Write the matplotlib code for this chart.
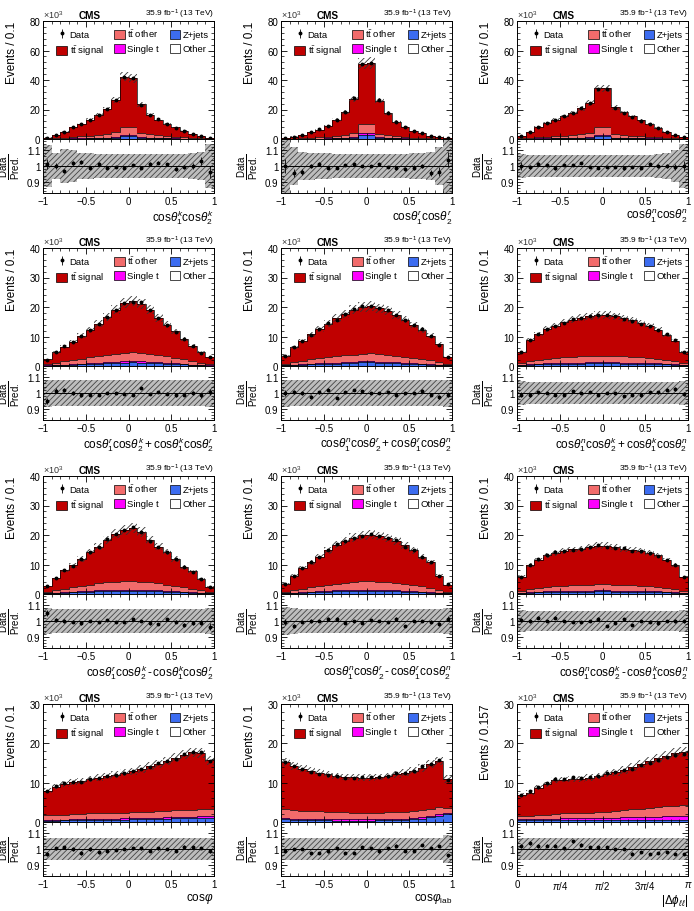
import numpy as np
import matplotlib.pyplot as plt
from matplotlib.ticker import MultipleLocator, FuncFormatter
from matplotlib.patches import Patch

plt.rcParams['font.family'] = ['Liberation Sans', 'DejaVu Sans']
plt.rcParams['mathtext.fontset'] = 'custom'
plt.rcParams['mathtext.rm'] = 'Liberation Sans'
plt.rcParams['mathtext.it'] = 'Liberation Sans:italic'
plt.rcParams['mathtext.bf'] = 'Liberation Sans:bold'
plt.rcParams['hatch.linewidth'] = 0.6

edges_cos = np.linspace(-1, 1, 21)
edges_phi = np.linspace(0, np.pi, 21)

# all yields in units of 10^3 events
# cos(theta1 k) cos(theta2 k)
kk_pred = [1.0, 2.6, 5.0, 8.0, 10.2, 13.0, 16.3, 20.4, 26.5, 42.3, 41.2, 23.5, 16.2, 13.0, 10.2, 7.8, 5.6, 3.4, 1.8, 0.7]
kk_ttother = [0.22, 0.44, 0.65, 0.95, 1.23, 1.54, 1.98, 2.52, 3.3, 5.75, 5.55, 3.2, 2.37, 1.86, 1.48, 1.11, 0.82, 0.53, 0.31, 0.11]
kk_singlet = [0.03, 0.06, 0.1, 0.13, 0.17, 0.2, 0.25, 0.3, 0.4, 0.6, 0.6, 0.4, 0.3, 0.22, 0.18, 0.14, 0.1, 0.06, 0.03, 0.01]
kk_zjets = [0.04, 0.08, 0.12, 0.18, 0.25, 0.3, 0.4, 0.5, 0.7, 1.8, 1.7, 0.6, 0.45, 0.35, 0.28, 0.2, 0.14, 0.09, 0.05, 0.02]
kk_other = [0.01, 0.02, 0.03, 0.04, 0.05, 0.06, 0.07, 0.08, 0.1, 0.15, 0.15, 0.1, 0.08, 0.07, 0.06, 0.05, 0.04, 0.02, 0.01, 0.01]
kk_ratio = [1.01, 1.0, 0.97, 1.02, 1.025, 0.99, 1.015, 0.99, 0.995, 0.99, 1.005, 0.99, 1.015, 1.02, 1.01, 0.98, 0.995, 1.0, 1.03, 0.96]
kk_unc = [0.13, 0.08, 0.11, 0.1, 0.08, 0.08, 0.075, 0.075, 0.075, 0.075, 0.075, 0.075, 0.075, 0.075, 0.075, 0.075, 0.075, 0.08, 0.09, 0.14]

# cos(theta1 r) cos(theta2 r)
rr_pred = [0.5, 1.6, 2.7, 4.5, 6.4, 8.9, 13.0, 18.2, 27.3, 51.0, 51.6, 26.1, 17.7, 11.8, 8.0, 5.7, 4.1, 2.3, 1.4, 0.5]
rr_ttother = [0.06, 0.21, 0.35, 0.57, 0.79, 1.07, 1.41, 1.93, 2.65, 6.6, 6.6, 2.55, 1.83, 1.28, 0.94, 0.65, 0.52, 0.29, 0.18, 0.06]
rr_singlet = [0.01, 0.03, 0.05, 0.08, 0.1, 0.14, 0.2, 0.25, 0.35, 1.0, 1.0, 0.35, 0.25, 0.17, 0.12, 0.08, 0.06, 0.04, 0.02, 0.01]
rr_zjets = [0.02, 0.05, 0.08, 0.12, 0.17, 0.24, 0.33, 0.45, 0.7, 2.6, 2.6, 0.7, 0.45, 0.3, 0.2, 0.14, 0.1, 0.06, 0.04, 0.02]
rr_other = [0.01, 0.01, 0.02, 0.03, 0.04, 0.05, 0.06, 0.07, 0.1, 0.3, 0.3, 0.1, 0.07, 0.05, 0.04, 0.03, 0.02, 0.01, 0.01, 0.01]
rr_ratio = [1.0, 0.955, 0.96, 1.0, 1.01, 0.99, 0.99, 1.005, 1.01, 1.0, 1.0, 1.01, 0.995, 0.985, 0.98, 0.99, 1.0, 0.955, 0.965, 1.04]
rr_unc = [0.2, 0.12, 0.09, 0.085, 0.08, 0.08, 0.075, 0.075, 0.075, 0.075, 0.075, 0.075, 0.075, 0.075, 0.075, 0.08, 0.08, 0.09, 0.12, 0.2]

# cos(theta1 n) cos(theta2 n)
nn_pred = [2.0, 5.0, 8.3, 10.8, 13.1, 15.3, 17.8, 20.8, 24.4, 34.3, 34.3, 21.4, 18.0, 15.3, 12.6, 9.9, 7.4, 5.0, 2.7, 1.1]
nn_ttother = [0.28, 0.56, 0.85, 1.14, 1.36, 1.65, 1.94, 2.25, 2.7, 5.1, 5.1, 2.45, 2.01, 1.65, 1.36, 1.07, 0.85, 0.56, 0.36, 0.14]
nn_singlet = [0.04, 0.08, 0.12, 0.16, 0.19, 0.23, 0.27, 0.3, 0.38, 0.8, 0.8, 0.34, 0.28, 0.23, 0.19, 0.15, 0.12, 0.08, 0.05, 0.02]
nn_zjets = [0.06, 0.12, 0.18, 0.24, 0.28, 0.34, 0.4, 0.45, 0.6, 2.0, 2.0, 0.5, 0.42, 0.34, 0.28, 0.22, 0.18, 0.12, 0.07, 0.03]
nn_other = [0.02, 0.04, 0.05, 0.06, 0.07, 0.08, 0.09, 0.1, 0.12, 0.2, 0.2, 0.11, 0.09, 0.08, 0.07, 0.06, 0.05, 0.04, 0.02, 0.01]
nn_ratio = [1.0, 0.995, 1.015, 1.005, 0.985, 1.005, 1.005, 1.02, 0.995, 0.99, 0.995, 0.995, 0.985, 0.995, 0.99, 1.01, 1.0, 1.0, 0.995, 1.0]
nn_unc = [0.075, 0.072, 0.072, 0.072, 0.072, 0.072, 0.072, 0.072, 0.072, 0.072, 0.072, 0.072, 0.072, 0.072, 0.072, 0.072, 0.075, 0.08, 0.1, 0.14]

# cos(theta1 r) cos(theta2 k) + cos(theta1 k) cos(theta2 r)
rkp_pred = [2.3, 4.6, 6.5, 8.3, 10.3, 12.2, 14.3, 16.5, 19.0, 21.4, 22.0, 21.1, 19.0, 16.2, 14.0, 11.7, 9.2, 6.8, 4.6, 3.1]
rkp_ttother = [0.4, 0.8, 1.1, 1.4, 1.7, 2.0, 2.3, 2.5, 2.7, 2.8, 2.9, 2.8, 2.6, 2.4, 2.1, 1.8, 1.5, 1.1, 0.8, 0.5]
rkp_singlet = [0.05, 0.1, 0.15, 0.2, 0.25, 0.3, 0.35, 0.4, 0.45, 0.5, 0.5, 0.5, 0.45, 0.4, 0.35, 0.3, 0.25, 0.15, 0.1, 0.05]
rkp_zjets = [0.1, 0.2, 0.3, 0.4, 0.5, 0.6, 0.7, 0.8, 0.9, 1.0, 1.1, 1.0, 0.9, 0.8, 0.7, 0.6, 0.5, 0.3, 0.2, 0.1]
rkp_other = [0.02, 0.03, 0.04, 0.05, 0.06, 0.07, 0.08, 0.09, 0.1, 0.1, 0.1, 0.1, 0.1, 0.09, 0.08, 0.07, 0.06, 0.04, 0.03, 0.02]
rkp_ratio = [0.95, 1.015, 1.02, 1.0, 0.985, 0.99, 0.99, 1.0, 1.0, 0.995, 0.99, 1.03, 0.995, 1.005, 0.995, 0.985, 0.99, 1.0, 0.985, 1.005]
rkp_unc = [0.085, 0.08, 0.08, 0.08, 0.08, 0.08, 0.08, 0.08, 0.08, 0.08, 0.08, 0.08, 0.08, 0.08, 0.08, 0.08, 0.08, 0.08, 0.08, 0.085]

# cos(theta1 n) cos(theta2 r) + cos(theta1 r) cos(theta2 n)
nrp_pred = [3.4, 6.3, 8.6, 10.8, 12.5, 14.3, 16.2, 17.7, 19.0, 20.0, 20.3, 19.6, 18.8, 17.3, 15.7, 13.9, 12.2, 10.3, 7.4, 3.2]
nrp_ttother = [0.5, 0.9, 1.2, 1.5, 1.7, 1.9, 2.1, 2.3, 2.4, 2.5, 2.6, 2.5, 2.4, 2.3, 2.1, 1.9, 1.6, 1.4, 1.0, 0.5]
nrp_singlet = [0.06, 0.12, 0.16, 0.2, 0.24, 0.28, 0.32, 0.36, 0.4, 0.42, 0.42, 0.4, 0.38, 0.34, 0.3, 0.26, 0.22, 0.18, 0.12, 0.06]
nrp_zjets = [0.15, 0.25, 0.35, 0.45, 0.55, 0.65, 0.75, 0.85, 0.95, 1.1, 1.2, 1.0, 0.9, 0.8, 0.7, 0.6, 0.5, 0.4, 0.3, 0.15]
nrp_other = [0.02, 0.04, 0.05, 0.06, 0.07, 0.08, 0.09, 0.1, 0.1, 0.1, 0.1, 0.1, 0.1, 0.1, 0.09, 0.08, 0.07, 0.06, 0.04, 0.02]
nrp_ratio = [1.0, 1.005, 1.0, 0.975, 1.005, 1.02, 0.97, 1.005, 1.02, 1.01, 1.0, 1.0, 1.005, 0.99, 1.0, 1.0, 1.015, 0.99, 0.975, 0.99]
nrp_unc = [0.085, 0.08, 0.08, 0.08, 0.08, 0.08, 0.08, 0.08, 0.08, 0.08, 0.08, 0.08, 0.08, 0.08, 0.08, 0.08, 0.08, 0.08, 0.08, 0.085]

# cos(theta1 n) cos(theta2 k) + cos(theta1 k) cos(theta2 n)
nkp_pred = [4.8, 8.9, 10.8, 12.5, 13.7, 14.8, 15.7, 16.4, 16.9, 17.3, 17.3, 16.9, 16.2, 15.5, 14.6, 13.5, 12.3, 10.5, 8.6, 4.8]
nkp_ttother = [0.6, 1.1, 1.4, 1.6, 1.8, 1.9, 2.0, 2.1, 2.2, 2.2, 2.2, 2.2, 2.1, 2.0, 1.9, 1.8, 1.6, 1.4, 1.1, 0.6]
nkp_singlet = [0.1, 0.18, 0.22, 0.25, 0.27, 0.29, 0.3, 0.32, 0.33, 0.34, 0.34, 0.33, 0.32, 0.3, 0.29, 0.27, 0.25, 0.22, 0.18, 0.1]
nkp_zjets = [0.25, 0.45, 0.5, 0.55, 0.6, 0.65, 0.7, 0.75, 0.8, 0.9, 0.9, 0.8, 0.75, 0.7, 0.65, 0.6, 0.55, 0.5, 0.45, 0.25]
nkp_other = [0.03, 0.05, 0.06, 0.07, 0.07, 0.08, 0.08, 0.08, 0.09, 0.09, 0.09, 0.09, 0.08, 0.08, 0.08, 0.07, 0.07, 0.06, 0.05, 0.03]
nkp_ratio = [0.99, 0.985, 1.005, 1.0, 0.99, 0.99, 1.01, 1.0, 1.005, 0.99, 1.0, 1.0, 0.98, 0.99, 0.985, 1.005, 1.005, 1.02, 1.025, 0.995]
nkp_unc = [0.075, 0.072, 0.072, 0.072, 0.072, 0.072, 0.072, 0.072, 0.072, 0.072, 0.072, 0.072, 0.072, 0.072, 0.072, 0.072, 0.072, 0.072, 0.072, 0.075]

# cos(theta1 r) cos(theta2 k) - cos(theta1 k) cos(theta2 r)
rkm_pred = [2.6, 5.5, 8.0, 9.7, 11.9, 14.2, 16.1, 18.4, 20.5, 21.8, 22.4, 21.0, 18.4, 16.1, 14.2, 11.9, 9.3, 7.7, 5.1, 2.5]
rkm_ttother = [0.4, 0.8, 1.2, 1.5, 1.8, 2.1, 2.4, 2.6, 2.8, 2.9, 2.9, 2.8, 2.6, 2.4, 2.1, 1.8, 1.5, 1.2, 0.8, 0.4]
rkm_singlet = [0.05, 0.1, 0.15, 0.2, 0.25, 0.3, 0.35, 0.4, 0.42, 0.45, 0.45, 0.42, 0.4, 0.35, 0.3, 0.25, 0.2, 0.15, 0.1, 0.05]
rkm_zjets = [0.15, 0.3, 0.4, 0.5, 0.6, 0.7, 0.8, 0.85, 0.9, 0.95, 0.95, 0.9, 0.85, 0.8, 0.7, 0.6, 0.5, 0.4, 0.3, 0.15]
rkm_other = [0.02, 0.03, 0.04, 0.05, 0.06, 0.07, 0.08, 0.09, 0.1, 0.1, 0.1, 0.1, 0.09, 0.08, 0.07, 0.06, 0.05, 0.04, 0.03, 0.02]
rkm_ratio = [1.05, 1.005, 1.0, 0.995, 0.985, 1.0, 0.995, 1.005, 0.995, 0.995, 1.01, 1.0, 0.985, 0.98, 1.01, 0.995, 0.975, 0.985, 0.99, 0.965]
rkm_unc = [0.08, 0.075, 0.075, 0.075, 0.075, 0.075, 0.075, 0.075, 0.075, 0.075, 0.075, 0.075, 0.075, 0.075, 0.075, 0.075, 0.075, 0.075, 0.075, 0.08]

# cos(theta1 n) cos(theta2 r) - cos(theta1 r) cos(theta2 n)
nrm_pred = [3.4, 6.2, 8.8, 10.8, 12.7, 14.8, 16.7, 18.0, 19.1, 19.9, 20.1, 19.7, 19.0, 18.0, 16.5, 14.8, 12.7, 10.8, 6.2, 3.2]
nrm_ttother = [0.5, 0.9, 1.2, 1.5, 1.8, 2.0, 2.3, 2.5, 2.7, 2.8, 2.8, 2.8, 2.7, 2.5, 2.3, 2.0, 1.8, 1.5, 0.9, 0.5]
nrm_singlet = [0.06, 0.12, 0.16, 0.2, 0.24, 0.28, 0.32, 0.36, 0.4, 0.42, 0.42, 0.4, 0.38, 0.34, 0.3, 0.26, 0.22, 0.18, 0.12, 0.06]
nrm_zjets = [0.15, 0.3, 0.4, 0.5, 0.6, 0.7, 0.8, 0.85, 0.9, 0.95, 0.95, 0.9, 0.85, 0.8, 0.7, 0.6, 0.5, 0.4, 0.3, 0.15]
nrm_other = [0.02, 0.04, 0.05, 0.06, 0.07, 0.08, 0.09, 0.1, 0.1, 0.1, 0.1, 0.1, 0.1, 0.1, 0.09, 0.08, 0.07, 0.06, 0.04, 0.02]
nrm_ratio = [0.995, 0.97, 0.995, 1.0, 1.0, 1.015, 1.015, 0.99, 1.0, 0.99, 1.005, 1.0, 0.995, 1.015, 0.97, 1.0, 1.0, 0.995, 0.98, 1.015]
nrm_unc = [0.09, 0.08, 0.075, 0.075, 0.075, 0.075, 0.075, 0.075, 0.075, 0.075, 0.075, 0.075, 0.075, 0.075, 0.075, 0.075, 0.075, 0.075, 0.075, 0.08]

# cos(theta1 n) cos(theta2 k) - cos(theta1 k) cos(theta2 n)
nkm_pred = [5.9, 9.9, 11.6, 13.1, 13.9, 14.5, 15.1, 15.3, 15.9, 16.4, 16.4, 15.9, 15.3, 15.0, 14.5, 13.9, 13.1, 11.6, 9.9, 5.7]
nkm_ttother = [0.6, 1.0, 1.3, 1.5, 1.7, 1.8, 1.9, 2.0, 2.0, 2.1, 2.1, 2.0, 2.0, 1.9, 1.8, 1.7, 1.5, 1.3, 1.0, 0.6]
nkm_singlet = [0.1, 0.18, 0.22, 0.25, 0.27, 0.29, 0.3, 0.32, 0.33, 0.34, 0.34, 0.33, 0.32, 0.3, 0.29, 0.27, 0.25, 0.22, 0.18, 0.1]
nkm_zjets = [0.3, 0.45, 0.5, 0.55, 0.6, 0.65, 0.7, 0.7, 0.75, 0.8, 0.8, 0.75, 0.7, 0.7, 0.65, 0.6, 0.55, 0.5, 0.45, 0.3]
nkm_other = [0.03, 0.05, 0.06, 0.07, 0.07, 0.08, 0.08, 0.08, 0.09, 0.09, 0.09, 0.09, 0.08, 0.08, 0.08, 0.07, 0.07, 0.06, 0.05, 0.03]
nkm_ratio = [1.005, 1.0, 1.02, 1.0, 1.02, 1.0, 0.995, 0.995, 1.0, 1.015, 0.97, 0.99, 1.01, 0.975, 1.0, 0.995, 0.985, 1.0, 1.0, 1.0]
nkm_unc = [0.068, 0.065, 0.065, 0.065, 0.065, 0.065, 0.065, 0.065, 0.065, 0.065, 0.065, 0.065, 0.065, 0.065, 0.065, 0.065, 0.065, 0.065, 0.065, 0.068]

# cos(phi)
cphi_pred = [8.0, 9.0, 9.7, 10.1, 10.5, 11.0, 11.3, 11.7, 12.0, 12.5, 12.9, 13.5, 14.2, 14.8, 15.5, 16.3, 17.1, 17.7, 17.6, 15.7]
cphi_ttother = [1.15, 1.22, 1.28, 1.34, 1.41, 1.47, 1.43, 1.48, 1.54, 1.5, 1.55, 1.49, 1.53, 1.57, 1.61, 1.75, 1.68, 1.72, 1.76, 1.81]
cphi_singlet = [0.2, 0.21, 0.22, 0.23, 0.24, 0.25, 0.26, 0.27, 0.28, 0.29, 0.3, 0.31, 0.32, 0.33, 0.34, 0.35, 0.36, 0.37, 0.38, 0.38]
cphi_zjets = [0.3, 0.32, 0.35, 0.38, 0.4, 0.43, 0.46, 0.5, 0.53, 0.56, 0.6, 0.65, 0.7, 0.75, 0.8, 0.85, 0.9, 0.95, 1.0, 1.05]
cphi_other = [0.05, 0.05, 0.05, 0.05, 0.05, 0.05, 0.05, 0.05, 0.05, 0.05, 0.05, 0.05, 0.05, 0.05, 0.05, 0.05, 0.06, 0.06, 0.06, 0.06]
cphi_ratio = [0.97, 1.005, 1.01, 1.0, 0.975, 1.0, 0.98, 0.99, 0.995, 1.0, 1.005, 1.005, 0.99, 1.005, 1.0, 0.99, 1.015, 1.01, 1.005, 0.985]
cphi_unc = [0.07, 0.07, 0.07, 0.07, 0.07, 0.07, 0.07, 0.07, 0.07, 0.07, 0.07, 0.07, 0.07, 0.07, 0.07, 0.07, 0.07, 0.07, 0.07, 0.07]

# cos(phi lab)
clab_pred = [15.3, 14.2, 13.6, 13.0, 12.5, 12.1, 11.7, 11.5, 11.4, 11.3, 11.3, 11.5, 11.7, 12.1, 12.5, 13.0, 13.8, 14.7, 15.5, 11.0]
clab_ttother = [2.22, 2.12, 2.09, 2.04, 2.0, 1.93, 1.86, 1.86, 1.76, 1.76, 1.76, 1.74, 1.81, 1.75, 1.74, 1.82, 1.8, 1.87, 1.84, 1.1]
clab_singlet = [0.3, 0.3, 0.28, 0.28, 0.27, 0.27, 0.26, 0.26, 0.26, 0.26, 0.26, 0.26, 0.26, 0.27, 0.28, 0.3, 0.32, 0.35, 0.38, 0.3]
clab_zjets = [0.6, 0.5, 0.45, 0.4, 0.35, 0.32, 0.3, 0.3, 0.3, 0.3, 0.3, 0.32, 0.35, 0.4, 0.5, 0.6, 0.8, 1.1, 1.5, 2.0]
clab_other = [0.08, 0.08, 0.08, 0.08, 0.08, 0.08, 0.08, 0.08, 0.08, 0.08, 0.08, 0.08, 0.08, 0.08, 0.08, 0.08, 0.08, 0.08, 0.08, 0.08]
clab_ratio = [0.99, 1.0, 1.0, 0.975, 0.975, 0.985, 1.005, 0.975, 0.975, 1.01, 1.005, 0.985, 1.005, 1.02, 0.99, 0.99, 1.025, 1.005, 1.02, 0.96]
clab_unc = [0.07, 0.07, 0.07, 0.07, 0.07, 0.07, 0.07, 0.07, 0.07, 0.07, 0.07, 0.07, 0.07, 0.07, 0.07, 0.07, 0.07, 0.07, 0.07, 0.09]

# |delta phi ll|
dphi_pred = [6.8, 7.5, 8.7, 9.6, 10.7, 10.8, 11.0, 11.0, 11.3, 11.7, 12.3, 12.7, 13.2, 14.0, 14.8, 15.5, 16.2, 16.9, 17.5, 17.8]
dphi_ttother = [0.75, 0.83, 0.9, 1.05, 1.22, 1.3, 1.37, 1.34, 1.41, 1.47, 1.54, 1.7, 1.85, 2.0, 2.15, 2.3, 2.45, 2.6, 2.65, 2.7]
dphi_singlet = [0.2, 0.22, 0.25, 0.28, 0.3, 0.32, 0.35, 0.38, 0.4, 0.44, 0.48, 0.52, 0.56, 0.61, 0.66, 0.71, 0.76, 0.81, 0.86, 0.9]
dphi_zjets = [0.5, 0.5, 0.5, 0.52, 0.53, 0.53, 0.53, 0.53, 0.54, 0.54, 0.53, 0.53, 0.54, 0.54, 0.54, 0.54, 0.54, 0.54, 0.54, 0.55]
dphi_other = [0.05, 0.05, 0.05, 0.05, 0.05, 0.05, 0.05, 0.05, 0.05, 0.05, 0.05, 0.05, 0.05, 0.05, 0.05, 0.05, 0.05, 0.05, 0.05, 0.05]
dphi_ratio = [1.02, 1.04, 1.02, 1.02, 1.02, 1.005, 1.05, 1.025, 1.01, 1.01, 1.01, 1.0, 1.0, 0.97, 0.98, 0.97, 0.975, 0.98, 0.97, 0.97]
dphi_unc = [0.07, 0.07, 0.07, 0.07, 0.07, 0.07, 0.07, 0.07, 0.07, 0.07, 0.07, 0.07, 0.07, 0.07, 0.07, 0.07, 0.07, 0.07, 0.07, 0.07]

LUMI = r'35.9 fb$^{-1}$ (13 TeV)'


def ct(i, a):
    return r'\mathrm{cos}\theta_{%s}^{%s}' % (i, a)


MINUS = r'\,\text{-}\,'
panels = [
    dict(key='kk', xlabel='$' + ct(1, 'k') + ct(2, 'k') + '$', ymax=80),
    dict(key='rr', xlabel='$' + ct(1, 'r') + ct(2, 'r') + '$', ymax=80),
    dict(key='nn', xlabel='$' + ct(1, 'n') + ct(2, 'n') + '$', ymax=80),
    dict(key='rkp', xlabel='$' + ct(1, 'r') + ct(2, 'k') + '+' + ct(1, 'k') + ct(2, 'r') + '$', ymax=40),
    dict(key='nrp', xlabel='$' + ct(1, 'n') + ct(2, 'r') + '+' + ct(1, 'r') + ct(2, 'n') + '$', ymax=40),
    dict(key='nkp', xlabel='$' + ct(1, 'n') + ct(2, 'k') + '+' + ct(1, 'k') + ct(2, 'n') + '$', ymax=40),
    dict(key='rkm', xlabel='$' + ct(1, 'r') + ct(2, 'k') + MINUS + ct(1, 'k') + ct(2, 'r') + '$', ymax=40),
    dict(key='nrm', xlabel='$' + ct(1, 'n') + ct(2, 'r') + MINUS + ct(1, 'r') + ct(2, 'n') + '$', ymax=40),
    dict(key='nkm', xlabel='$' + ct(1, 'n') + ct(2, 'k') + MINUS + ct(1, 'k') + ct(2, 'n') + '$', ymax=40),
    dict(key='cphi', xlabel=r'$\mathrm{cos}\varphi$', ymax=30),
    dict(key='clab', xlabel=r'$\mathrm{cos}\varphi_{\mathrm{lab}}$', ymax=30),
    dict(key='dphi', xlabel=r'$|\Delta\phi_{\ell\ell}|$', ymax=30),
]

g = globals()
for p in panels:
    for part in ['pred', 'ttother', 'singlet', 'zjets', 'other', 'ratio', 'unc']:
        p[part] = np.array(g[p['key'] + '_' + part])

W, H = 694, 912
col_left = [43, 281, 517]
col_w = 171
row_top = [22, 249, 477, 705]
main_h = 118
ratio_h = 54


def rect(x, y_top, w, h):
    return [x / W, 1 - (y_top + h) / H, w / W, h / H]


C_SIG = '#c00000'
C_TTO = '#f26b6b'
C_ST = '#ff00ff'
C_ZJ = '#3c6cf0'
C_OTH = 'white'

fig = plt.figure(figsize=(W / 100, H / 100), dpi=100)

labels = ['Data', r'$\mathrm{t\bar{t}}$ signal', r'$\mathrm{t\bar{t}}$ other', 'Single t', 'Z+jets', 'Other']


def style_ticks(a):
    a.tick_params(which='both', direction='in', top=True, right=True, labelsize=7, pad=2)
    a.tick_params(which='major', length=4, width=0.6)
    a.tick_params(which='minor', length=2, width=0.5)
    for s in a.spines.values():
        s.set_linewidth(0.7)


for i, p in enumerate(panels):
    r, c = divmod(i, 3)
    ax = fig.add_axes(rect(col_left[c], row_top[r], col_w, main_h))
    axr = fig.add_axes(rect(col_left[c], row_top[r] + main_h, col_w, ratio_h))
    edges = edges_phi if p['key'] == 'dphi' else edges_cos
    centers = 0.5 * (edges[:-1] + edges[1:])

    pred = p['pred']
    comps = [p['other'], p['zjets'], p['singlet'], p['ttother']]
    signal = pred - sum(comps)
    bottom = np.zeros(len(pred))
    for vals, col in zip(comps + [signal], [C_OTH, C_ZJ, C_ST, C_TTO, C_SIG]):
        top = bottom + vals
        ax.stairs(top, edges, baseline=bottom, fill=True, color=col, lw=0)
        ax.stairs(top, edges, baseline=None, color='black', lw=0.5)
        bottom = top

    unc = p['unc']
    ax.stairs(pred * (1 + unc), edges, baseline=pred * (1 - unc), fill=True,
              facecolor='none', edgecolor='#333333', hatch='//////', lw=0)

    data = pred * p['ratio']
    err = np.sqrt(data * 1000) / 1000
    eb = ax.errorbar(centers, data, yerr=err, fmt='o', ms=1.8, color='black', elinewidth=0.6, capsize=0)

    ax.set_xlim(edges[0], edges[-1])
    ax.set_ylim(0, p['ymax'])
    step = 20 if p['ymax'] == 80 else 10
    ax.yaxis.set_major_locator(MultipleLocator(step))
    ax.yaxis.set_minor_locator(MultipleLocator(step / 5))
    style_ticks(ax)
    ax.tick_params(labelbottom=False)
    ylab = 'Events / 0.157' if p['key'] == 'dphi' else 'Events / 0.1'
    ax.set_ylabel(ylab, fontsize=8.5, loc='top')
    ax.yaxis.set_label_coords(-0.145, 1.0)

    ax.text(0.0, 1.012, r'$\times10^{3}$', transform=ax.transAxes, fontsize=6.5, ha='left', va='bottom', color='#333333')
    ax.text(0.21, 1.012, 'CMS', transform=ax.transAxes, fontsize=7.2, fontweight='bold', ha='left', va='bottom')
    ax.text(1.0, 1.012, LUMI, transform=ax.transAxes, fontsize=6, ha='right', va='bottom')

    patches = [Patch(facecolor=cc, edgecolor='black', lw=0.5) for cc in [C_SIG, C_TTO, C_ST, C_ZJ, C_OTH]]
    handles = [eb] + patches
    ax.legend(handles, labels, ncol=3, loc='upper left', bbox_to_anchor=(0.04, 1.0), fontsize=6.8,
              frameon=False, handlelength=1.1, handleheight=1.1, handletextpad=0.3,
              columnspacing=1.1, labelspacing=0.45, borderpad=0.2)

    # ratio panel
    axr.stairs(1 + unc, edges, baseline=1 - unc, fill=True, facecolor='#bdbdbd',
               edgecolor='#444444', hatch='//////', lw=0)
    axr.axhline(1.0, color='black', lw=0.7)
    axr.errorbar(centers, p['ratio'], yerr=err / pred, fmt='o', ms=1.8, color='black', elinewidth=0.6, capsize=0)
    axr.set_xlim(edges[0], edges[-1])
    axr.set_ylim(0.83, 1.17)
    axr.set_yticks([0.9, 1.0, 1.1])
    axr.yaxis.set_major_formatter(FuncFormatter(lambda v, pos: '%g' % round(v, 2)))
    axr.yaxis.set_minor_locator(MultipleLocator(0.02))
    if p['key'] == 'dphi':
        for a in (ax, axr):
            a.xaxis.set_major_locator(MultipleLocator(np.pi / 4))
            a.xaxis.set_minor_locator(MultipleLocator(np.pi / 20))
        axr.set_xticks([0, np.pi / 4, np.pi / 2, 3 * np.pi / 4, np.pi])
        axr.set_xticklabels(['0', r'$\pi$/4', r'$\pi$/2', r'3$\pi$/4', r'$\pi$'])
    else:
        for a in (ax, axr):
            a.xaxis.set_major_locator(MultipleLocator(0.5))
            a.xaxis.set_minor_locator(MultipleLocator(0.1))
        axr.xaxis.set_major_formatter(FuncFormatter(lambda v, pos: '%g' % v if v >= 0 else '\u2212%g' % -v))
    style_ticks(axr)
    axr.set_ylabel(r'$\frac{\mathrm{Data}}{\mathrm{Pred.}}$', fontsize=10)
    axr.yaxis.set_label_coords(-0.115, 0.5)
    axr.set_xlabel(p['xlabel'], fontsize=8.5, loc='right', labelpad=1)

fig.savefig('out.png', dpi=100)
